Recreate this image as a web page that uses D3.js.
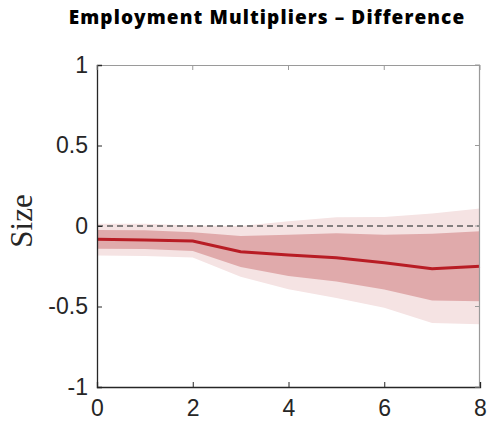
<!DOCTYPE html>
<html><head><meta charset="utf-8">
<script src="https://cdn.jsdelivr.net/npm/d3@7"></script>
<style>body{margin:0;background:#fff}</style>
</head><body>
<svg id="c" width="489" height="422"></svg>
<script>
const horizons = [0,1,2,3,4,5,6,7,8];
const median = [-0.083,-0.087,-0.093,-0.160,-0.180,-0.197,-0.228,-0.265,-0.250];
const innerUpper = [-0.025,-0.027,-0.039,-0.062,-0.055,-0.045,-0.054,-0.048,-0.032];
const innerLower = [-0.142,-0.143,-0.155,-0.255,-0.310,-0.345,-0.395,-0.462,-0.468];
const outerUpper = [0.014,0.014,0.003,0.000,0.030,0.054,0.056,0.077,0.108];
const outerLower = [-0.184,-0.186,-0.195,-0.315,-0.393,-0.447,-0.507,-0.602,-0.610];
const xTicks = [0,2,4,6,8];
const yTicks = [-1,-0.5,0,0.5,1];
const yTickLabels = ["-1","-0.5","0","0.5","1"];

const svg = d3.select("#c");
const L=97, R=480, T=65, B=387;
const x = d3.scaleLinear().domain([0,8]).range([L,R]);
const y = d3.scaleLinear().domain([-1,1]).range([B,T]);

const data = horizons.map((h,i)=>({h, m:median[i], iu:innerUpper[i], il:innerLower[i], ou:outerUpper[i], ol:outerLower[i]}));

svg.append("path").datum(data)
  .attr("d", d3.area().x(d=>x(d.h)).y0(d=>y(d.ol)).y1(d=>y(d.ou)))
  .attr("fill","#f5e3e3");
svg.append("path").datum(data)
  .attr("d", d3.area().x(d=>x(d.h)).y0(d=>y(d.il)).y1(d=>y(d.iu)))
  .attr("fill","#e0aaab");
svg.append("line").attr("x1",x(0)).attr("x2",x(8)).attr("y1",y(0)).attr("y2",y(0))
  .attr("stroke","#5e5e5e").attr("stroke-width",1.7).attr("stroke-dasharray","6,4");
svg.append("path").datum(data)
  .attr("d", d3.line().x(d=>x(d.h)).y(d=>y(d.m)))
  .attr("fill","none").attr("stroke","#b81c24").attr("stroke-width",3);

// box
const dark="#262626", grey="#9a9a9a";
svg.append("line").attr("x1",L).attr("x2",R).attr("y1",T+0.5).attr("y2",T+0.5).attr("stroke",grey).attr("stroke-width",1.2);
svg.append("line").attr("x1",R-0.5).attr("x2",R-0.5).attr("y1",T).attr("y2",B).attr("stroke",grey).attr("stroke-width",1.2);

const xAxis = svg.append("g").attr("transform",`translate(0,${B})`)
  .call(d3.axisBottom(x).tickValues(xTicks).tickSize(-5).tickPadding(13).tickFormat(d3.format("d")));
const yAxis = svg.append("g").attr("transform",`translate(${L},0)`)
  .call(d3.axisLeft(y).tickValues(yTicks).tickSize(-5).tickPadding(9).tickFormat((d,i)=>yTickLabels[i]));
[xAxis,yAxis].forEach(g=>{
  g.select(".domain").attr("stroke",dark).attr("stroke-width",1.3);
  g.selectAll(".tick line").attr("stroke",dark);
  g.selectAll(".tick text").attr("fill","#262626").attr("font-family","Liberation Sans, Arial, sans-serif").attr("font-size",23);
});
xAxis.selectAll(".tick text").attr("dy","0.71em");
// top and right ticks
svg.append("g").selectAll("line").data(xTicks).join("line")
  .attr("x1",d=>x(d)).attr("x2",d=>x(d)).attr("y1",T).attr("y2",T+5).attr("stroke",grey);
svg.append("g").selectAll("line").data(yTicks).join("line")
  .attr("x1",R).attr("x2",R-5).attr("y1",d=>y(d)).attr("y2",d=>y(d)).attr("stroke",grey);

svg.append("text").attr("transform",`translate(32,221) rotate(-90)`)
  .attr("text-anchor","middle").attr("font-family","Liberation Serif, Times New Roman, serif")
  .attr("font-size",31).attr("fill","#262626").text("Size");

svg.append("text").attr("x",267).attr("y",24).attr("text-anchor","middle")
  .attr("font-family","Open Sans, sans-serif").attr("font-weight","800").attr("font-size",19)
  .attr("letter-spacing","1.1px")
  .attr("fill","#000").text("Employment Multipliers – Difference");
</script>
</body></html>
